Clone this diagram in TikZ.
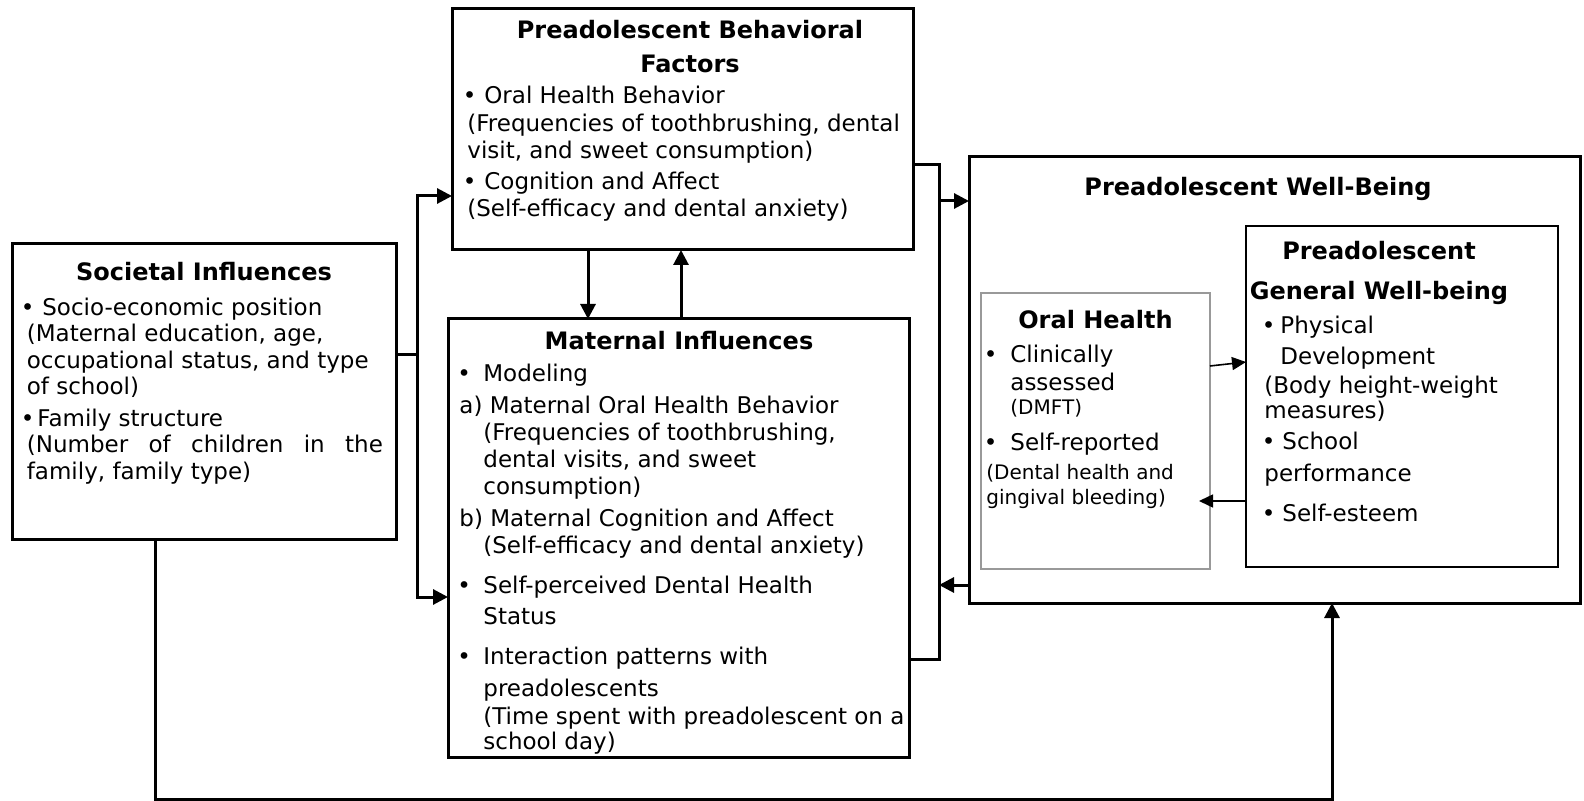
\documentclass[tikz,border=0pt]{standalone}
\usepackage{fontspec}
\setmainfont{DejaVu Sans}
\usetikzlibrary{arrows.meta,calc}

% fixed-width slot holding a bullet, so item texts line up
\newcommand{\bulletbox}[1]{\makebox[#1][l]{•}}

\tikzset{
  box/.style={draw, line width=1.5pt, inner sep=0pt, outer sep=0pt, anchor=north west},
  graybox/.style={box, draw=black!40, line width=1pt},
  thinbox/.style={box, line width=0.8pt},
  title/.style={inner sep=0pt, font=\bfseries\fontsize{12}{14}\selectfont},
  body/.style={inner sep=0pt, anchor=north west, align=left},
  conn/.style={line width=1.5pt},
  arrow/.style={conn, -{Triangle[length=7.5pt,width=7.5pt]}},
  thinarrow/.style={line width=0.8pt, -{Triangle[length=7pt,width=6.5pt]}}
}

\begin{document}
\begin{tikzpicture}[x=0.5pt,y=-0.5pt]
\fill[white] (0,0) rectangle (1584,801);
\useasboundingbox (0,0) rectangle (1584,801);

% ---------- boxes ----------
\node[box, minimum width=192pt, minimum height=148pt] (soc) at (12,244) {};
\node[box, minimum width=230.5pt, minimum height=120.5pt] (beh) at (452,9) {};
\node[box, minimum width=230.5pt, minimum height=219pt] (mat) at (448,319) {};
\node[box, minimum width=305.5pt, minimum height=223pt] (wb) at (969,157) {};
\node[graybox, minimum width=114.5pt, minimum height=138pt] (oh) at (981,293) {};
\node[thinbox, minimum width=156pt, minimum height=170.5pt] (gw) at (1246,226) {};

% ---------- Societal Influences ----------
\node[title, anchor=base] (soct) at (204,281) {Societal Influences};
\node[body, font=\fontsize{11.5}{13.25}\selectfont] (socb) at (26.5,296.5) {%
\strut\hspace*{-3pt}\bulletbox{10.75pt}Socio-economic position\\
(Maternal education, age,\\
occupational status, and type\\
of school)\\[2.5pt]
\hspace*{-3pt}\bulletbox{8.25pt}Family structure\\
\makebox[178pt][s]{(Number of children in the}\\
family, family type)};

% ---------- Preadolescent Behavioral Factors ----------
\node[title, anchor=north, align=center, font=\bfseries\fontsize{12}{17}\selectfont] (beht) at (690,14)
  {\strut Preadolescent Behavioral\\Factors};
\node[body, font=\fontsize{11.5}{13.75}\selectfont] (behb) at (467,84) {%
\strut\hspace*{-2.25pt}\bulletbox{10.75pt}Oral Health Behavior\\
(Frequencies of toothbrushing, dental\\
visit, and sweet consumption)\\[1.5pt]
\hspace*{-2.25pt}\bulletbox{10.75pt}Cognition and Affect\\
(Self-efficacy and dental anxiety)};

% ---------- Maternal Influences ----------
\node[title, anchor=base] (matt) at (679,350) {Maternal Influences};
\node[body, font=\fontsize{11.5}{13.5}\selectfont] (matb) at (459,362) {%
\strut\hspace*{-1pt}\bulletbox{13pt}Modeling\\[2.5pt]
a) Maternal Oral Health Behavior\\
\hspace*{12pt}(Frequencies of toothbrushing,\\
\hspace*{12pt}dental visits, and sweet\\
\hspace*{12pt}consumption)\\[2.5pt]
b) Maternal Cognition and Affect\\
\hspace*{12pt}(Self-efficacy and dental anxiety)\\[6.5pt]
\hspace*{-1pt}\bulletbox{13pt}Self-perceived Dental Health\\[2pt]
\hspace*{12pt}Status\\[6.5pt]
\hspace*{-1pt}\bulletbox{13pt}Interaction patterns with\\[2.5pt]
\hspace*{12pt}preadolescents\\[0.5pt]
\hspace*{12pt}(Time spent with preadolescent on a\\[-1pt]
\hspace*{12pt}school day)};

% ---------- Preadolescent Well-Being ----------
\node[title, anchor=base] (wbt) at (1258,196) {Preadolescent Well-Being};

\node[title, anchor=base] (oht) at (1095.5,329) {Oral Health};
\node[body, font=\fontsize{11.5}{14}\selectfont] (ohb) at (986,342.4) {%
\strut\hspace*{-1.25pt}\bulletbox{13.25pt}Clinically\\
\hspace*{12pt}assessed\\[-2pt]
\hspace*{12pt}{\fontsize{10}{12}\selectfont (DMFT)}\\[4pt]
\hspace*{-1.25pt}\bulletbox{13.25pt}Self-reported\\[0.5pt]
{\fontsize{10}{12}\selectfont (Dental health and}\\[-1.5pt]
{\fontsize{10}{12}\selectfont gingival bleeding)}};

\node[title, anchor=north, align=center, font=\bfseries\fontsize{12}{20}\selectfont] (gwt) at (1379,231)
  {\strut Preadolescent\\General Well-being};
\node[body, font=\fontsize{11.5}{14}\selectfont] (gwb) at (1264,314) {%
\strut\hspace*{-1.25pt}\bulletbox{9.25pt}Physical\\[1.5pt]
\hspace*{8pt}Development\\[0.5pt]
(Body height-weight\\[-1.5pt]
measures)\\[1.5pt]
\hspace*{-1.25pt}\bulletbox{10.25pt}School\\[2pt]
performance\\[6pt]
\hspace*{-1.25pt}\bulletbox{10.25pt}Self-esteem};

% ---------- junction points ----------
\coordinate (j1) at (417,355);
\coordinate (ja) at (417,196);
\coordinate (jb) at (417,597);
\coordinate (dn) at (588,0);
\coordinate (up) at (681,0);
\coordinate (r1) at (939,165);
\coordinate (r2) at (939,659);
\coordinate (ra) at (939,201);
\coordinate (rb) at (939,585);
\coordinate (b1) at (155,799);
\coordinate (b2) at (1332,799);
\coordinate (p1) at (1211,366);
\coordinate (p2) at (1246,362);
\coordinate (p3) at (1199,501);

% ---------- connectors ----------
\draw[conn] (soc.east |- j1) -- (j1);
\draw[arrow] (j1) |- (beh.west |- ja);
\draw[arrow] (j1) |- (mat.west |- jb);

\draw[arrow] (beh.south -| dn) -- (mat.north -| dn);
\draw[arrow] (mat.north -| up) -- (beh.south -| up);

\draw[conn] (beh.east |- r1) -- (r1) -- (r2) -- (mat.east |- r2);
\draw[arrow] (ra) -- (wb.west |- ra);
\draw[arrow] (wb.west |- rb) -- (rb);

\draw[arrow] (soc.south -| b1) -- (b1) -- (b2) -- (wb.south -| b2);

\draw[thinarrow] (oh.east |- p1) -- (gw.west |- p2);
\draw[thinarrow] (gw.west |- p3) -- (p3);
\end{tikzpicture}
\end{document}
